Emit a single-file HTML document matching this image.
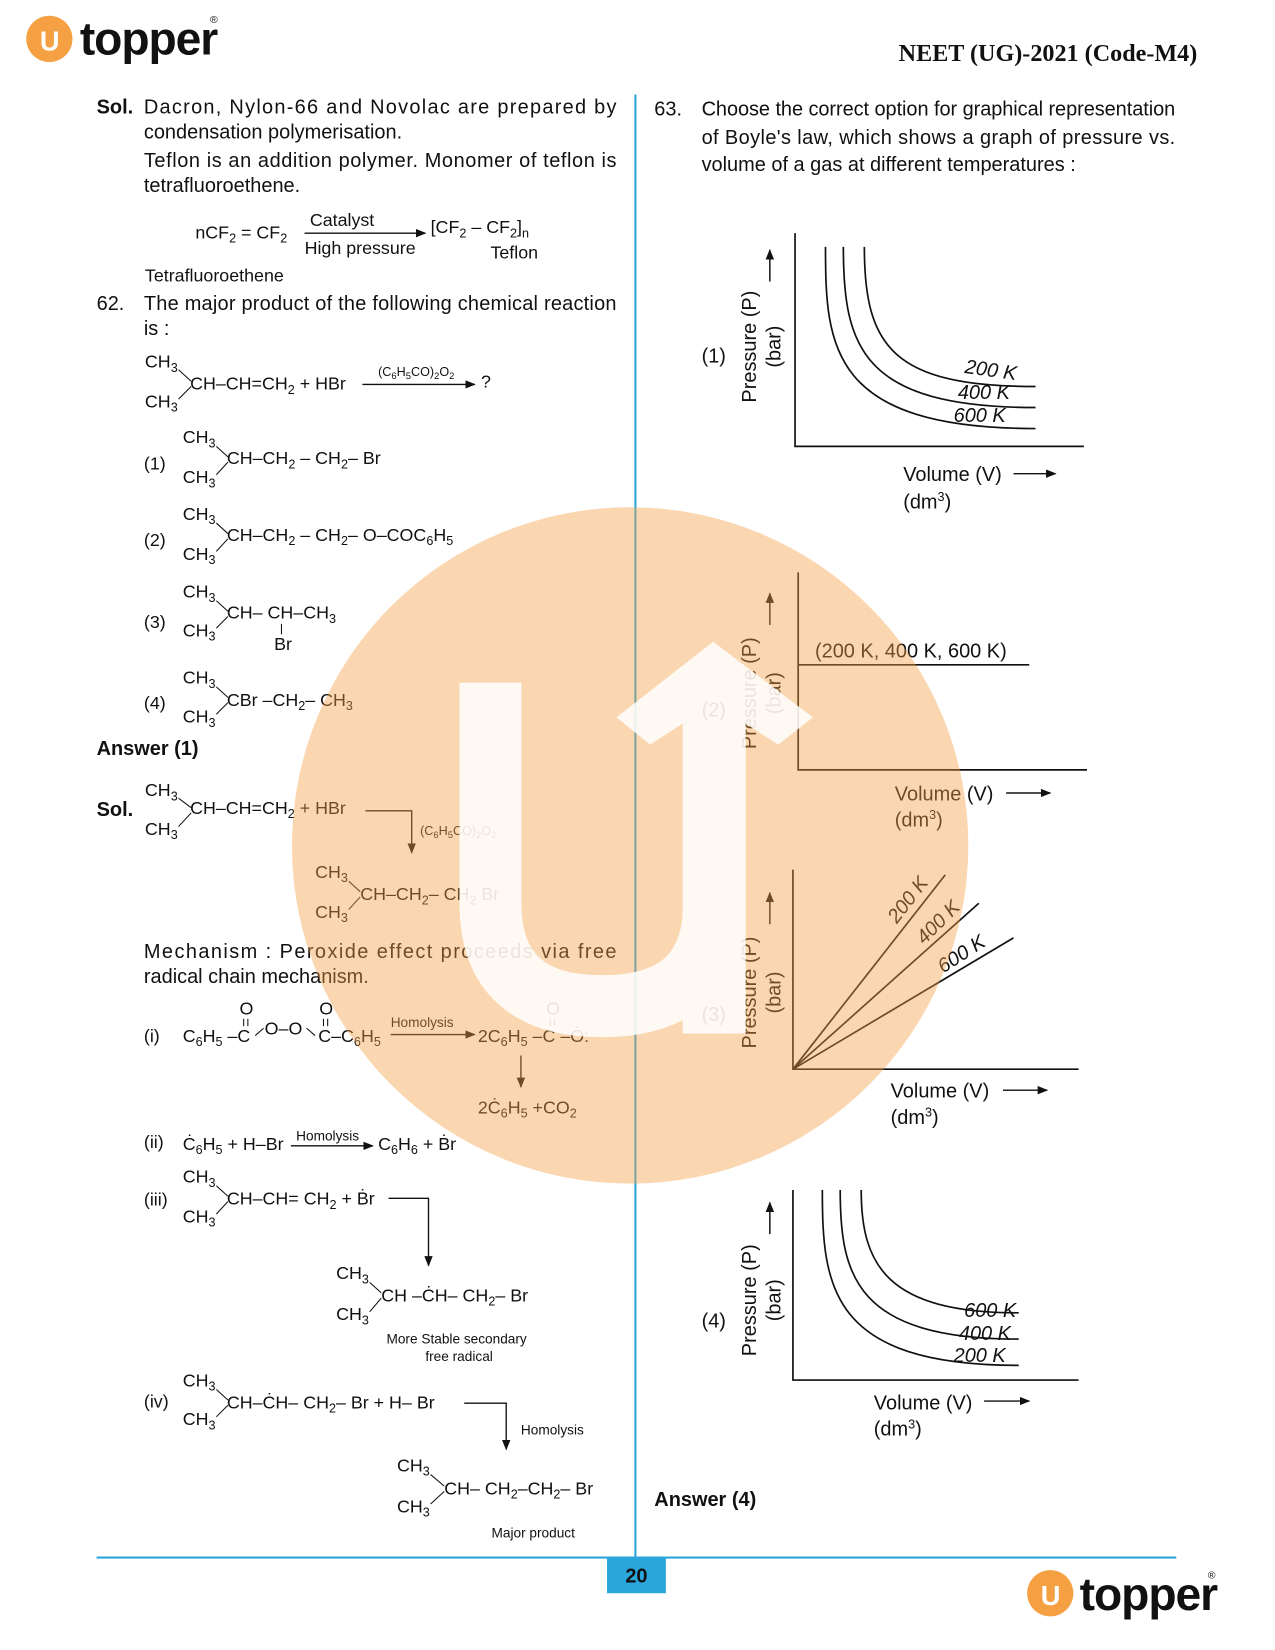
<!DOCTYPE html>
<html><head><meta charset="utf-8"><style>
html,body{margin:0;padding:0;background:#fff}
svg{display:block}
text{font-family:"Liberation Sans",Arial,sans-serif;fill:#111}
.t{font-size:19px}
.s{font-size:12px}
.sm{font-size:13px}
.b{font-weight:bold}
</style></head><body>
<svg width="1275" height="1650" viewBox="0 0 1214 1571" xmlns="http://www.w3.org/2000/svg">
<defs><marker id="ah" markerWidth="10" markerHeight="8" refX="9" refY="4" orient="auto" markerUnits="userSpaceOnUse"><path d="M0,0 L10,4 L0,8 Z" fill="#111"/></marker></defs>
<!-- header -->
<circle cx="47" cy="37" r="22" fill="#f5a043"/>
<text x="38" y="48" style="font-size:26px;fill:#fff;font-weight:bold">U</text>
<text x="76" y="52" style="font-size:44px;font-weight:bold;letter-spacing:-1px">topper</text>
<text x="200" y="22" style="font-size:10px">®</text>
<text x="1140" y="58" text-anchor="end" style="font-family:'Liberation Serif',serif;font-size:23px;font-weight:bold">NEET (UG)-2021 (Code-M4)</text>
<!-- divider -->
<line x1="605" y1="90" x2="605" y2="1515" stroke="#2aa6dc" stroke-width="2"/>
<line x1="92" y1="1483" x2="1120" y2="1483" stroke="#2aa6dc" stroke-width="2"/>
<rect x="578" y="1483" width="56" height="34" fill="#2aa6dc"/>
<text x="606" y="1507" text-anchor="middle" class="t b">20</text>
<circle cx="1000" cy="1517" r="22" fill="#f5a043"/>
<text x="991" y="1528" style="font-size:26px;fill:#fff;font-weight:bold">U</text>
<text x="1028" y="1533" style="font-size:44px;font-weight:bold;letter-spacing:-1px">topper</text>
<text x="1150" y="1503" style="font-size:10px">®</text>

<g class="t">
<text x="92" y="108" class="b">Sol.</text>
<text x="137" y="108" textLength="450" lengthAdjust="spacing">Dacron, Nylon-66 and Novolac are prepared by</text>
<text x="137" y="132">condensation polymerisation.</text>
<text x="137" y="159" textLength="450" lengthAdjust="spacing">Teflon is an addition polymer. Monomer of teflon is</text>
<text x="137" y="183">tetrafluoroethene.</text>
<text x="186" y="227" style="font-size:17px">nCF<tspan class="s" dy="4">2</tspan><tspan dy="-4"> = CF</tspan><tspan class="s" dy="4">2</tspan></text>
<text x="295" y="215" style="font-size:17px">Catalyst</text>
<line x1="290" y1="222" x2="405" y2="222" stroke="#111" stroke-width="1.3" marker-end="url(#ah)"/>
<text x="290" y="242" style="font-size:17px">High pressure</text>
<text x="410" y="222" style="font-size:17px">[CF<tspan class="s" dy="4">2</tspan><tspan dy="-4"> – CF</tspan><tspan class="s" dy="4">2</tspan><tspan dy="-4">]</tspan><tspan class="s" dy="4">n</tspan></text>
<text x="467" y="246" style="font-size:17px">Teflon</text>
<text x="138" y="268" style="font-size:17px">Tetrafluoroethene</text>
<text x="92" y="295">62.</text>
<text x="137" y="295" textLength="450" lengthAdjust="spacing">The major product of the following chemical reaction</text>
<text x="137" y="319">is :</text>
</g>
<g style="font-size:17px">
<text x="138" y="350">CH<tspan class="s" dy="4">3</tspan></text>
<text x="138" y="388">CH<tspan class="s" dy="4">3</tspan></text>
<text x="181" y="371">CH–CH=CH<tspan class="s" dy="4">2</tspan><tspan dy="-4"> + HBr</tspan></text>
<text x="360" y="358" class="s">(C<tspan dy="3" style="font-size:9px">6</tspan><tspan dy="-3">H</tspan><tspan dy="3" style="font-size:9px">5</tspan><tspan dy="-3">CO)</tspan><tspan dy="3" style="font-size:9px">2</tspan><tspan dy="-3">O</tspan><tspan dy="3" style="font-size:9px">2</tspan></text>
<line x1="345" y1="366" x2="452" y2="366" stroke="#111" stroke-width="1.3" marker-end="url(#ah)"/>
<text x="458" y="369">?</text>
<text x="137" y="447">(1)</text>
<text x="174" y="422">CH<tspan class="s" dy="4">3</tspan></text><text x="174" y="460">CH<tspan class="s" dy="4">3</tspan></text>
<text x="216" y="442">CH–CH<tspan class="s" dy="4">2</tspan><tspan dy="-4"> – CH</tspan><tspan class="s" dy="4">2</tspan><tspan dy="-4">– Br</tspan></text>
<text x="137" y="520">(2)</text>
<text x="174" y="495">CH<tspan class="s" dy="4">3</tspan></text><text x="174" y="533">CH<tspan class="s" dy="4">3</tspan></text>
<text x="216" y="515">CH–CH<tspan class="s" dy="4">2</tspan><tspan dy="-4"> – CH</tspan><tspan class="s" dy="4">2</tspan><tspan dy="-4">– O–COC</tspan><tspan class="s" dy="4">6</tspan><tspan dy="-4">H</tspan><tspan class="s" dy="4">5</tspan></text>
<text x="137" y="598">(3)</text>
<text x="174" y="569">CH<tspan class="s" dy="4">3</tspan></text><text x="174" y="606">CH<tspan class="s" dy="4">3</tspan></text>
<text x="216" y="589">CH– CH–CH<tspan class="s" dy="4">3</tspan></text>
<line x1="268" y1="594" x2="268" y2="604" stroke="#111"/>
<text x="261" y="619">Br</text>
<text x="137" y="675">(4)</text>
<text x="174" y="651">CH<tspan class="s" dy="4">3</tspan></text><text x="174" y="688">CH<tspan class="s" dy="4">3</tspan></text>
<text x="216" y="672">CBr –CH<tspan class="s" dy="4">2</tspan><tspan dy="-4">– CH</tspan><tspan class="s" dy="4">3</tspan></text>
</g>
<g stroke="#111" stroke-width="1">
<line x1="170" y1="352" x2="182" y2="363"/><line x1="170" y1="380" x2="182" y2="368"/>
<line x1="206" y1="425" x2="217" y2="435"/><line x1="206" y1="452" x2="217" y2="440"/>
<line x1="206" y1="498" x2="217" y2="508"/><line x1="206" y1="525" x2="217" y2="513"/>
<line x1="206" y1="572" x2="217" y2="582"/><line x1="206" y1="598" x2="217" y2="587"/>
<line x1="206" y1="654" x2="217" y2="664"/><line x1="206" y1="680" x2="217" y2="669"/>
<line x1="170" y1="760" x2="182" y2="769"/><line x1="170" y1="787" x2="182" y2="774"/>
<line x1="332" y1="839" x2="343" y2="849"/><line x1="332" y1="866" x2="343" y2="854"/>
<line x1="206" y1="1129" x2="217" y2="1139"/><line x1="206" y1="1156" x2="217" y2="1144"/>
<line x1="352" y1="1221" x2="363" y2="1231"/><line x1="352" y1="1249" x2="363" y2="1236"/>
<line x1="206" y1="1323" x2="217" y2="1333"/><line x1="206" y1="1349" x2="217" y2="1338"/>
<line x1="410" y1="1404" x2="423" y2="1415"/><line x1="410" y1="1432" x2="423" y2="1420"/>
</g>
<text x="92" y="719" class="t b">Answer (1)</text>
<text x="92" y="777" class="t b">Sol.</text>
<g style="font-size:17px">
<text x="138" y="758">CH<tspan class="s" dy="4">3</tspan></text><text x="138" y="795">CH<tspan class="s" dy="4">3</tspan></text>
<text x="181" y="775">CH–CH=CH<tspan class="s" dy="4">2</tspan><tspan dy="-4"> + HBr</tspan></text>
<polyline points="348,772 392,772 392,812" fill="none" stroke="#111" stroke-width="1.3" marker-end="url(#ah)"/>
<text x="400" y="795" class="s">(C<tspan dy="3" style="font-size:9px">6</tspan><tspan dy="-3">H</tspan><tspan dy="3" style="font-size:9px">5</tspan><tspan dy="-3">CO)</tspan><tspan dy="3" style="font-size:9px">2</tspan><tspan dy="-3">O</tspan><tspan dy="3" style="font-size:9px">2</tspan></text>
<text x="300" y="836">CH<tspan class="s" dy="4">3</tspan></text><text x="300" y="874">CH<tspan class="s" dy="4">3</tspan></text>
<text x="343" y="857">CH–CH<tspan class="s" dy="4">2</tspan><tspan dy="-4">– CH</tspan><tspan class="s" dy="4">2</tspan><tspan dy="-4"> Br</tspan></text>
</g>
<text x="137" y="912" class="t" textLength="450" lengthAdjust="spacing">Mechanism : Peroxide effect proceeds via free</text>
<text x="137" y="936" class="t">radical chain mechanism.</text>
<g style="font-size:17px">
<text x="137" y="992">(i)</text>
<text x="174" y="992">C<tspan class="s" dy="4">6</tspan><tspan dy="-4">H</tspan><tspan class="s" dy="4">5</tspan><tspan dy="-4"> –C</tspan></text>
<text x="252" y="985">O–O</text>
<text x="303" y="992">C–C<tspan class="s" dy="4">6</tspan><tspan dy="-4">H</tspan><tspan class="s" dy="4">5</tspan></text>
<text x="228" y="966">O</text><text x="304" y="966">O</text>
<text x="372" y="978" class="sm">Homolysis</text>
<line x1="372" y1="985" x2="452" y2="985" stroke="#111" stroke-width="1.3" marker-end="url(#ah)"/>
<text x="455" y="992">2C<tspan class="s" dy="4">6</tspan><tspan dy="-4">H</tspan><tspan class="s" dy="4">5</tspan><tspan dy="-4"> –C –Ȯ:</tspan></text>
<text x="520" y="966">O</text>
<line x1="496" y1="1005" x2="496" y2="1035" stroke="#111" stroke-width="1.3" marker-end="url(#ah)"/>
<text x="455" y="1060">2Ċ<tspan class="s" dy="4">6</tspan><tspan dy="-4">H</tspan><tspan class="s" dy="4">5</tspan><tspan dy="-4"> +CO</tspan><tspan class="s" dy="4">2</tspan></text>
<text x="137" y="1093">(ii)</text>
<text x="174" y="1095">Ċ<tspan class="s" dy="4">6</tspan><tspan dy="-4">H</tspan><tspan class="s" dy="4">5</tspan><tspan dy="-4"> + H–Br</tspan></text>
<text x="282" y="1086" class="sm">Homolysis</text>
<line x1="277" y1="1091" x2="355" y2="1091" stroke="#111" stroke-width="1.3" marker-end="url(#ah)"/>
<text x="360" y="1095">C<tspan class="s" dy="4">6</tspan><tspan dy="-4">H</tspan><tspan class="s" dy="4">6</tspan><tspan dy="-4"> + Ḃr</tspan></text>
<text x="137" y="1148">(iii)</text>
<text x="174" y="1126">CH<tspan class="s" dy="4">3</tspan></text><text x="174" y="1164">CH<tspan class="s" dy="4">3</tspan></text>
<text x="216" y="1147">CH–CH= CH<tspan class="s" dy="4">2</tspan><tspan dy="-4"> + Ḃr</tspan></text>
<polyline points="370,1141 408,1141 408,1205" fill="none" stroke="#111" stroke-width="1.3" marker-end="url(#ah)"/>
<text x="320" y="1218">CH<tspan class="s" dy="4">3</tspan></text><text x="320" y="1257">CH<tspan class="s" dy="4">3</tspan></text>
<text x="363" y="1239">CH –ĊH– CH<tspan class="s" dy="4">2</tspan><tspan dy="-4">– Br</tspan></text>
<text x="368" y="1279" class="sm">More Stable secondary</text>
<text x="405" y="1296" class="sm">free radical</text>
<text x="137" y="1340">(iv)</text>
<text x="174" y="1320">CH<tspan class="s" dy="4">3</tspan></text><text x="174" y="1357">CH<tspan class="s" dy="4">3</tspan></text>
<text x="216" y="1341">CH–ĊH– CH<tspan class="s" dy="4">2</tspan><tspan dy="-4">– Br + H– Br</tspan></text>
<polyline points="442,1336 482,1336 482,1380" fill="none" stroke="#111" stroke-width="1.3" marker-end="url(#ah)"/>
<text x="496" y="1366" class="sm">Homolysis</text>
<text x="378" y="1401">CH<tspan class="s" dy="4">3</tspan></text><text x="378" y="1440">CH<tspan class="s" dy="4">3</tspan></text>
<text x="423" y="1423">CH– CH<tspan class="s" dy="4">2</tspan><tspan dy="-4">–CH</tspan><tspan class="s" dy="4">2</tspan><tspan dy="-4">– Br</tspan></text>
<text x="468" y="1464" class="sm">Major product</text>
</g>
<g stroke="#111" stroke-width="1">
<line x1="232" y1="970" x2="232" y2="977"/><line x1="236" y1="970" x2="236" y2="977"/>
<line x1="308" y1="970" x2="308" y2="977"/><line x1="312" y1="970" x2="312" y2="977"/>
<line x1="524" y1="970" x2="524" y2="977"/><line x1="528" y1="970" x2="528" y2="977"/>
<line x1="243" y1="986" x2="251" y2="979"/><line x1="292" y1="979" x2="300" y2="986"/>
</g>

<!-- right column -->
<g class="t">
<text x="623" y="110">63.</text>
<text x="668" y="110" textLength="451" lengthAdjust="spacing">Choose the correct option for graphical representation</text>
<text x="668" y="137" textLength="451" lengthAdjust="spacing">of Boyle's law, which shows a graph of pressure vs.</text>
<text x="668" y="163">volume of a gas at different temperatures :</text>
<text x="668" y="345">(1)</text><text x="668" y="682">(2)</text><text x="668" y="972">(3)</text><text x="668" y="1264">(4)</text>
</g>
<g fill="none" stroke="#111" stroke-width="1.6">
<polyline points="757,222 757,425 1032,425"/>
<path d="M786,235 C786,330 790,408 986,408"/>
<path d="M803,235 C803,330 820,388 986,388"/>
<path d="M823,235 C823,330 850,368 986,368"/>
<polyline points="760,545 760,733 1035,733"/>
<line x1="760" y1="633" x2="980" y2="633"/>
<polyline points="755,828 755,1018 1027,1018"/>
<line x1="755" y1="1018" x2="900" y2="833"/>
<line x1="755" y1="1018" x2="932" y2="860"/>
<line x1="755" y1="1018" x2="965" y2="893"/>
<polyline points="755,1133 755,1314 1027,1314"/>
<path d="M783,1133 C783,1225 790,1300 970,1300"/>
<path d="M800,1133 C800,1215 815,1275 970,1275"/>
<path d="M820,1133 C820,1205 845,1250 970,1250"/>
</g>
<g stroke="#111" stroke-width="1.4">
<line x1="733" y1="268" x2="733" y2="238" marker-end="url(#ah)"/>
<line x1="733" y1="595" x2="733" y2="565" marker-end="url(#ah)"/>
<line x1="733" y1="880" x2="733" y2="850" marker-end="url(#ah)"/>
<line x1="733" y1="1175" x2="733" y2="1145" marker-end="url(#ah)"/>
<line x1="965" y1="451" x2="1005" y2="451" marker-end="url(#ah)"/>
<line x1="958" y1="755" x2="1000" y2="755" marker-end="url(#ah)"/>
<line x1="955" y1="1038" x2="997" y2="1038" marker-end="url(#ah)"/>
<line x1="937" y1="1334" x2="980" y2="1334" marker-end="url(#ah)"/>
</g>
<g class="t">
<text transform="translate(720,330) rotate(-90)" text-anchor="middle">Pressure (P)</text>
<text transform="translate(743,330) rotate(-90)" text-anchor="middle">(bar)</text>
<text transform="translate(720,660) rotate(-90)" text-anchor="middle">Pressure (P)</text>
<text transform="translate(743,660) rotate(-90)" text-anchor="middle">(bar)</text>
<text transform="translate(720,945) rotate(-90)" text-anchor="middle">Pressure (P)</text>
<text transform="translate(743,945) rotate(-90)" text-anchor="middle">(bar)</text>
<text transform="translate(720,1238) rotate(-90)" text-anchor="middle">Pressure (P)</text>
<text transform="translate(743,1238) rotate(-90)" text-anchor="middle">(bar)</text>
<text x="860" y="458">Volume (V)</text><text x="860" y="484">(dm<tspan class="s" dy="-7">3</tspan><tspan dy="7">)</tspan></text>
<text x="852" y="762">Volume (V)</text><text x="852" y="787">(dm<tspan class="s" dy="-7">3</tspan><tspan dy="7">)</tspan></text>
<text x="848" y="1045">Volume (V)</text><text x="848" y="1070">(dm<tspan class="s" dy="-7">3</tspan><tspan dy="7">)</tspan></text>
<text x="832" y="1342">Volume (V)</text><text x="832" y="1367">(dm<tspan class="s" dy="-7">3</tspan><tspan dy="7">)</tspan></text>
<text x="776" y="626">(200 K, 400 K, 600 K)</text>
<text transform="translate(918,355) rotate(8)" style="font-style:italic">200 K</text>
<text x="912" y="380" style="font-style:italic">400 K</text>
<text x="908" y="402" style="font-style:italic">600 K</text>
<text transform="translate(854,880) rotate(-52)" style="font-style:italic">200 K</text>
<text transform="translate(880,900) rotate(-45)" style="font-style:italic">400 K</text>
<text transform="translate(898,927) rotate(-33)" style="font-style:italic">600 K</text>
<text x="918" y="1254" style="font-style:italic">600 K</text>
<text x="913" y="1276" style="font-style:italic">400 K</text>
<text x="908" y="1297" style="font-style:italic">200 K</text>
<text x="623" y="1434" class="b">Answer (4)</text>
</g>

<!-- watermark -->
<circle cx="600" cy="805" r="322" fill="#f5a046" opacity="0.42"/>
<g opacity="0.85">
<path d="M467,650 L467,860 Q467,958 573,958 Q680,958 680,860 L680,700" fill="none" stroke="#fff" stroke-width="59"/>
<polygon points="679,611 774,683 741,709 710,689 710,984 650,984 650,689 619,709 587,683" fill="#fff"/>
</g>
</svg>
</body></html>
